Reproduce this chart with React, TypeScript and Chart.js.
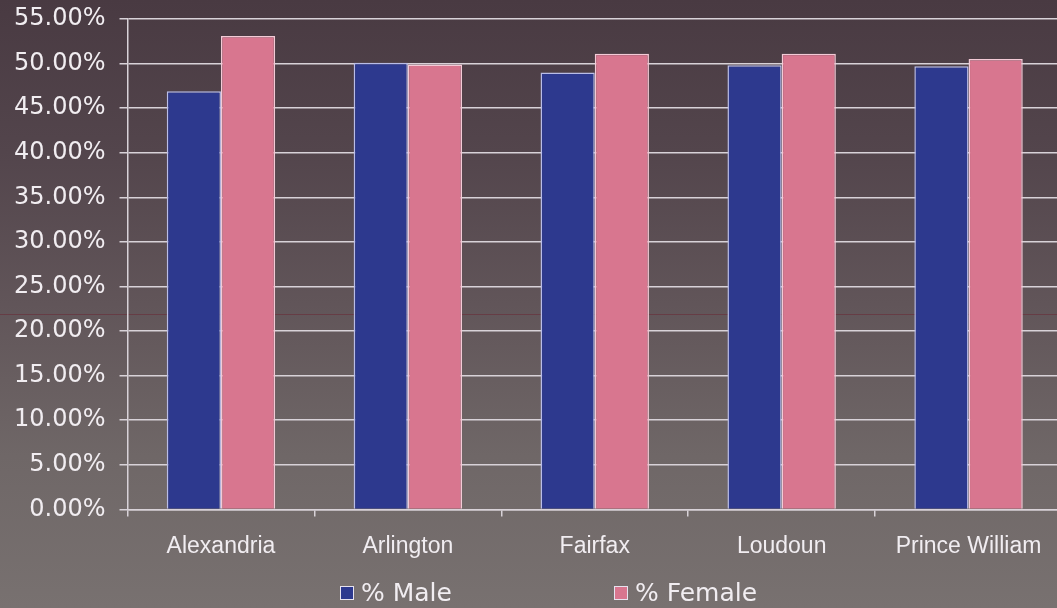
import React, { useEffect, useRef } from 'react';
import { Chart, registerables } from 'chart.js';

Chart.register(...registerables);

const categories = ['Alexandria', 'Arlington', 'Fairfax', 'Loudoun', 'Prince William'];
const maleValues = [46.9, 50.1, 49.0, 49.8, 49.7];
const femaleValues = [53.1, 49.9, 51.1, 51.1, 50.5];
const seriesNames = ['% Male', '% Female'];
const yMin = 0;
const yMax = 55;
const yStep = 5;

const MALE = '#2d398e';
const FEMALE = '#d8768f';
const TEXT = '#f1edf1';
const GRID = '#d8d2d8';

export default function App() {
  const ref = useRef<HTMLCanvasElement>(null);

  useEffect(() => {
    const chart = new Chart(ref.current as HTMLCanvasElement, {
      type: 'bar',
      data: {
        labels: categories,
        datasets: [
          {
            label: seriesNames[0],
            data: maleValues,
            backgroundColor: MALE,
            borderColor: '#b9bde8',
            borderWidth: 1.5,
            categoryPercentage: 0.58,
            barPercentage: 1.0,
          },
          {
            label: seriesNames[1],
            data: femaleValues,
            backgroundColor: FEMALE,
            borderColor: '#f3cad6',
            borderWidth: 1.5,
            categoryPercentage: 0.58,
            barPercentage: 1.0,
          },
        ],
      },
      options: {
        responsive: false,
        animation: false,
        devicePixelRatio: 1,
        layout: { padding: { left: 0, top: 19, right: 0, bottom: 32 } },
        plugins: { legend: { display: false }, tooltip: { enabled: false } },
        scales: {
          x: {
            grid: {
              display: true,
              drawOnChartArea: false,
              drawTicks: true,
              tickLength: 7,
              color: GRID,
              lineWidth: 1.5,
              offset: true,
            },
            border: { display: true, color: GRID, width: 1.5 },
            ticks: {
              color: TEXT,
              font: { family: 'Liberation Sans', size: 23 },
              padding: 16,
              maxRotation: 0,
              autoSkip: false,
            },
          },
          y: {
            min: yMin,
            max: yMax,
            afterFit: (s: any) => {
              s.paddingTop = 0;
            },
            ticks: {
              stepSize: yStep,
              callback: (v: any) => Number(v).toFixed(2) + '%',
              color: TEXT,
              font: { family: 'DejaVu Sans', size: 24 },
              padding: 14,
            },
            grid: { color: GRID, lineWidth: 1.5, tickLength: 8 },
            border: { display: true, color: GRID, width: 1.5 },
          },
        },
      },
    });
    return () => chart.destroy();
  }, []);

  const legendText: React.CSSProperties = {
    fontFamily: 'DejaVu Sans',
    fontSize: 25,
    lineHeight: '28px',
    color: TEXT,
    marginLeft: 7,
  };
  const box = (c: string): React.CSSProperties => ({
    width: 12,
    height: 12,
    background: c,
    border: '1.5px solid #e6e2ee',
  });

  return (
    <div
      style={{
        position: 'fixed',
        left: 0,
        top: 0,
        width: 1057,
        height: 608,
        overflow: 'hidden',
        background:
          'linear-gradient(to bottom, #493a42 0%, #53454c 25%, #615559 50%, #6f6767 75%, #787170 100%)',
      }}
    >
      <div
        style={{
          position: 'absolute',
          left: 0,
          top: 314,
          width: 1057,
          height: 1,
          background: 'rgba(105,40,52,0.55)',
        }}
      />
      <canvas
        ref={ref}
        width={1062}
        height={608}
        style={{ position: 'absolute', left: 0, top: 0, width: 1062, height: 608 }}
      />
      <div style={{ position: 'absolute', left: 340, top: 579, display: 'flex', alignItems: 'center' }}>
        <div style={box(MALE)} />
        <span style={legendText}>{seriesNames[0]}</span>
      </div>
      <div style={{ position: 'absolute', left: 614, top: 579, display: 'flex', alignItems: 'center' }}>
        <div style={box(FEMALE)} />
        <span style={legendText}>{seriesNames[1]}</span>
      </div>
    </div>
  );
}
